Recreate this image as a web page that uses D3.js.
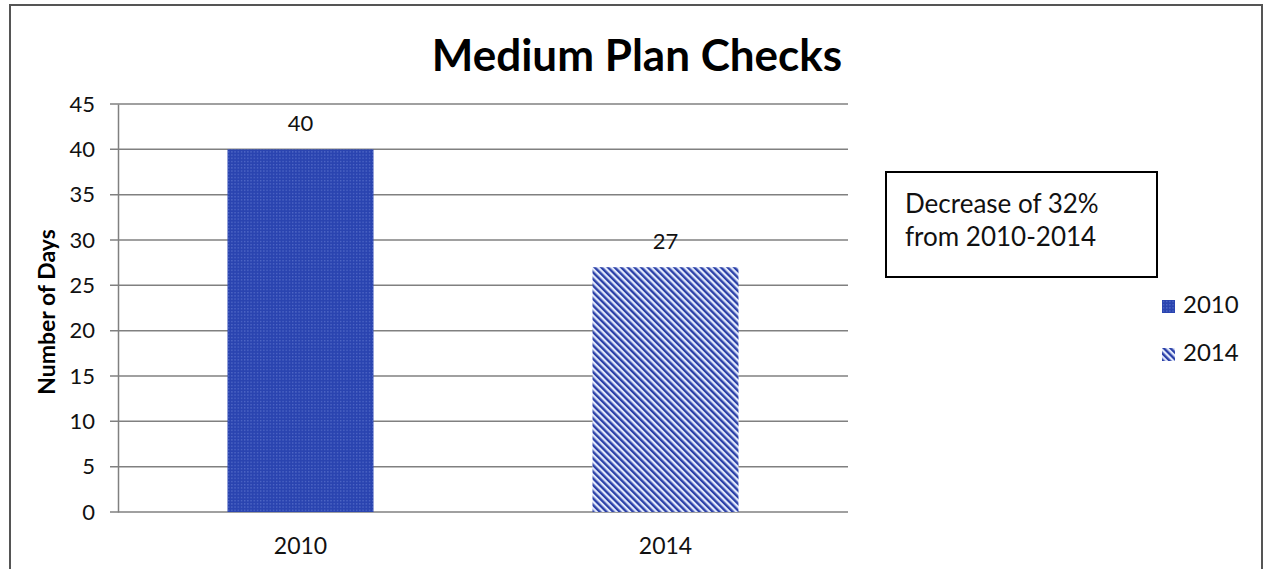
<!DOCTYPE html>
<html lang="en">

<head>
  <meta charset="utf-8">
  <title>Medium Plan Checks</title>
  <script type="text/javascript" src="https://cdn.jsdelivr.net/npm/d3@7"></script>
  <style type="text/css">
    body { margin: 0; background: #fff; }
    svg { display: block; font-family: Lato, "Open Sans", sans-serif; }
  </style>
</head>

<body>
  <script type="text/javascript">

    // Data
    const categories = ["2010", "2014"];
    const values = [40, 27];
    const yTicks = [0, 5, 10, 15, 20, 25, 30, 35, 40, 45];
    const note = ["Decrease of 32%", "from 2010-2014"];

    // Size
    const w = 1264;
    const h = 569;
    const plotLeft = 118, plotRight = 848, plotTop = 104, plotBottom = 512;

    const svg = d3.select("body")
      .append("svg")
      .attr("width", w)
      .attr("height", h);

    // Patterns for the bars
    const defs = svg.append("defs");
    const dots = defs.append("pattern")
      .attr("id", "dots")
      .attr("patternUnits", "userSpaceOnUse")
      .attr("width", 3.2)
      .attr("height", 3.2);
    dots.append("rect").attr("width", 3.2).attr("height", 3.2).attr("fill", "#2a44b0");
    dots.append("rect").attr("x", 1).attr("y", 1).attr("width", 1).attr("height", 1).attr("fill", "#6f86d8");

    const stripes = defs.append("pattern")
      .attr("id", "stripes")
      .attr("patternUnits", "userSpaceOnUse")
      .attr("width", 4.7)
      .attr("height", 4.7)
      .attr("patternTransform", "rotate(-45)");
    stripes.append("rect").attr("width", 4.7).attr("height", 4.7).attr("fill", "#e2e9fb");
    stripes.append("rect").attr("width", 2.4).attr("height", 4.7).attr("fill", "#2b40a8");

    const fills = ["url(#dots)", "url(#stripes)"];

    // Outer frame
    svg.append("rect")
      .attr("x", 10).attr("y", 5)
      .attr("width", 1252).attr("height", 580)
      .attr("fill", "none")
      .attr("stroke", "#555")
      .attr("stroke-width", 2);

    // Scales
    const x = d3.scaleBand().domain(categories).range([plotLeft, plotRight]);
    const y = d3.scaleLinear().domain([0, 45]).range([plotBottom, plotTop]);

    // Gridlines
    svg.selectAll("line.grid")
      .data(yTicks)
      .enter()
      .append("line")
      .attr("class", "grid")
      .attr("x1", plotLeft - 8)
      .attr("x2", plotRight)
      .attr("y1", function (d) { return y(d); })
      .attr("y2", function (d) { return y(d); })
      .attr("stroke", "#808080")
      .attr("stroke-width", 1.5);

    // y axis
    const yAxis = svg.append("g")
      .attr("transform", "translate(" + plotLeft + ",0)")
      .call(d3.axisLeft(y).tickValues(yTicks).tickSize(0).tickPadding(23));
    yAxis.select(".domain").attr("stroke", "#808080").attr("stroke-width", 1.5);
    yAxis.selectAll("text").attr("font-size", 22).attr("font-family", "Lato").attr("fill", "#111");

    // Bars
    const bw = x.bandwidth() * 0.4;
    svg.selectAll("rect.bar")
      .data(values)
      .enter()
      .append("rect")
      .attr("class", "bar")
      .attr("x", function (d, i) { return x(categories[i]) + (x.bandwidth() - bw) / 2; })
      .attr("y", function (d) { return y(d); })
      .attr("width", bw)
      .attr("height", function (d) { return y(0) - y(d); })
      .attr("fill", function (d, i) { return fills[i]; });

    // Value labels
    svg.selectAll("text.val")
      .data(values)
      .enter()
      .append("text")
      .attr("class", "val")
      .attr("x", function (d, i) { return x(categories[i]) + x.bandwidth() / 2; })
      .attr("y", function (d) { return y(d) - 18; })
      .attr("text-anchor", "middle")
      .attr("font-size", 22)
      .attr("fill", "#111")
      .text(function (d) { return d; });

    // x axis
    const xAxis = svg.append("g")
      .attr("transform", "translate(0," + plotBottom + ")")
      .call(d3.axisBottom(x).tickSize(0).tickPadding(26));
    xAxis.select(".domain").remove();
    xAxis.selectAll("text").attr("font-size", 23).attr("font-family", "Lato").attr("fill", "#111");

    // Title
    svg.append("text")
      .attr("x", 637)
      .attr("y", 71)
      .attr("text-anchor", "middle")
      .attr("font-size", 44)
      .attr("font-weight", "bold")
      .attr("fill", "#000")
      .text("Medium Plan Checks");

    // y axis title
    svg.append("text")
      .attr("transform", "translate(55,312) rotate(-90)")
      .attr("text-anchor", "middle")
      .attr("font-size", 23)
      .attr("font-weight", "bold")
      .attr("fill", "#000")
      .text("Number of Days");

    // Note box
    svg.append("rect")
      .attr("x", 886).attr("y", 172)
      .attr("width", 271).attr("height", 105)
      .attr("fill", "#fff")
      .attr("stroke", "#000")
      .attr("stroke-width", 2);
    svg.selectAll("text.note")
      .data(note)
      .enter()
      .append("text")
      .attr("class", "note")
      .attr("x", 905)
      .attr("y", function (d, i) { return 213 + i * 33; })
      .attr("font-size", 26)
      .attr("fill", "#111")
      .text(function (d) { return d; });

    // Legend
    const legend = svg.selectAll("g.legend")
      .data(categories)
      .enter()
      .append("g")
      .attr("class", "legend")
      .attr("transform", function (d, i) { return "translate(1162," + (300 + i * 48) + ")"; });
    legend.append("rect")
      .attr("width", 13)
      .attr("height", 13)
      .attr("fill", function (d, i) { return fills[i]; });
    legend.append("text")
      .attr("x", 21)
      .attr("y", 13)
      .attr("font-size", 24)
      .attr("fill", "#111")
      .text(function (d) { return d; });

  </script>
</body>

</html>
